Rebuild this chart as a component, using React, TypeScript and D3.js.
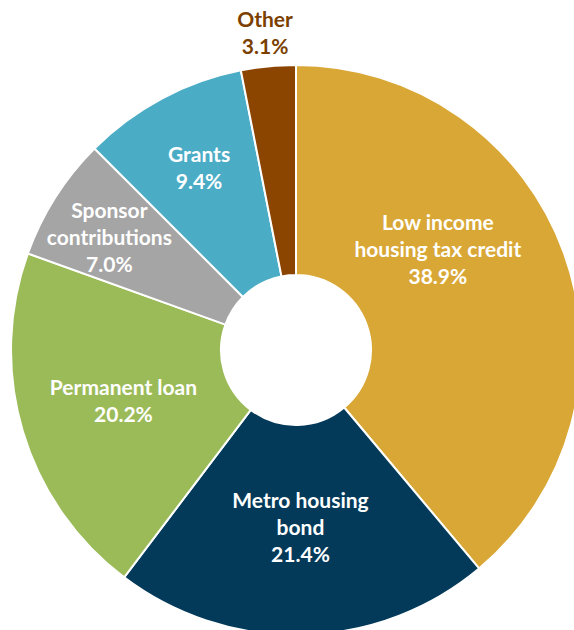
import React from "react";
import * as d3 from "d3";

const categories = ["Low income housing tax credit", "Metro housing bond", "Permanent loan", "Sponsor contributions", "Grants", "Other"];
const values = [38.9, 21.4, 20.2, 7.0, 9.4, 3.1];
const labelLines = [
  ["Low income", "housing tax credit"],
  ["Metro housing", "bond"],
  ["Permanent loan"],
  ["Sponsor", "contributions"],
  ["Grants"],
  ["Other"],
];
const colors = ["#D9A735", "#033A5A", "#9BBB59", "#A5A5A5", "#4BACC6", "#8B4500"];

const W = 574, H = 630;
const cx = 296, cy = 350;
const R = 285, r0 = 75;
// label layout: radius and optional angle override (degrees)
const labelLayout = [
  { r: 174, a: 54.6 },
  { r: 178 },
  { r: 180 },
  { r: 218, a: 301.1 },
  { r: 206 },
  { r: 318 },
];

export default function App() {
  const pie = d3.pie<number>().sort(null).value((d) => d)(values);
  const arc = d3.arc<d3.PieArcDatum<number>>().innerRadius(r0).outerRadius(R);
  const lh = 27;
  return (
    <svg width={W} height={H} style={{ position: "absolute", left: 0, top: 0, display: "block" }}
      fontFamily="Lato, 'Open Sans', sans-serif" fontWeight="bold">
      <rect width={W} height={H} fill="#fff" />
      <g transform={`translate(${cx},${cy})`}>
        {pie.map((p, i) => (
          <path key={i} d={arc(p) || ""} fill={colors[i]} stroke="#fff" strokeWidth={2} />
        ))}
        {pie.map((p, i) => {
          const lay = labelLayout[i];
          const ang = lay.a !== undefined ? (lay.a * Math.PI) / 180 : (p.startAngle + p.endAngle) / 2;
          const x = lay.r * Math.sin(ang);
          const y = -lay.r * Math.cos(ang);
          const lines = [...labelLines[i], `${values[i].toFixed(1)}%`];
          const n = lines.length;
          const fill = i === 5 ? "#7B3F00" : "#fff";
          return (
            <text key={i} textAnchor="middle" fontSize={21} fill={fill}>
              {lines.map((t, j) => (
                <tspan key={j} x={x} y={y + (j - (n - 1) / 2) * lh} dy="0.35em">{t}</tspan>
              ))}
            </text>
          );
        })}
      </g>
    </svg>
  );
}
